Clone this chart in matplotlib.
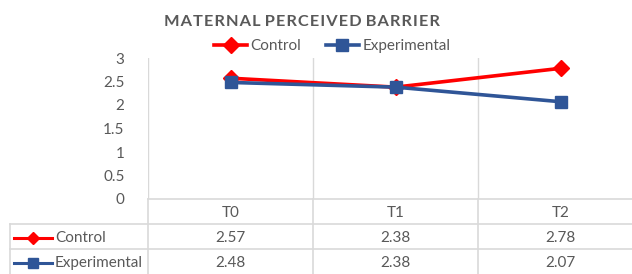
import numpy as np
import matplotlib.pyplot as plt
from matplotlib.lines import Line2D

plt.rcParams['font.family'] = ['Lato', 'DejaVu Sans']

categories = ['T0', 'T1', 'T2']
control = [2.57, 2.38, 2.78]
experimental = [2.48, 2.38, 2.07]
series_names = ['Control', 'Experimental']
yticks = [0, 0.5, 1, 1.5, 2, 2.5, 3]
title = 'MATERNAL PERCEIVED BARRIER'

W, H = 632, 274
red = '#ff0000'
blue = '#2f5597'
grid = '#d9d9d9'
txt = '#595959'

fig = plt.figure(figsize=(W / 100, H / 100), dpi=100)

# plot area in pixels
x0, x1 = 148, 643
y_top, y_bot = 58, 199


def fx(px):
    return px / W


def fy(py):
    return 1 - py / H


ax = fig.add_axes([fx(x0), fy(y_bot), fx(x1) - fx(x0), fy(y_top) - fy(y_bot)])
x = np.arange(len(categories))
ax.plot(x, control, color=red, lw=2.6, marker='D', ms=8, zorder=3, label='Control')
ax.plot(x, experimental, color=blue, lw=2.6, marker='s', ms=8.5, zorder=3, label='Experimental')
ax.set_xlim(-0.5, len(categories) - 0.5)
ax.set_ylim(0, 3)
for b in np.arange(-0.5, len(categories), 1):
    ax.axvline(b, color=grid, lw=1, zorder=0)
for s in ax.spines.values():
    s.set_visible(False)
ax.set_xticks([])
ax.set_yticks(yticks)
ax.set_yticklabels([f'{v:g}' for v in yticks])
ax.tick_params(axis='y', length=0, pad=17, labelsize=11, labelcolor=txt)

# data table below the plot
tax = fig.add_axes([fx(x0), 0, fx(x1) - fx(x0), fy(y_bot)])
tax.set_xlim(-0.5, len(categories) - 0.5)
tax.set_ylim(0, 3)
tax.axis('off')
left = -0.5 + (10 - x0) / ((x1 - x0) / len(categories))
kw = dict(color=grid, lw=1.2, clip_on=False)
tax.plot([-0.5, 2.5], [3, 3], **kw)
tax.plot([left, 2.5], [2, 2], **kw)
tax.plot([left, 2.5], [1.0, 1.0], **kw)
tax.plot([left, left], [0, 2], **kw)
for b in np.arange(-0.5, len(categories), 1):
    tax.plot([b, b], [0, 3], **kw)

for i, c in enumerate(categories):
    tax.text(i, 2.45, c, ha='center', va='center', fontsize=11, color=txt)
rows = [control, experimental]
styles = [(red, 'D', 6), (blue, 's', 6.5)]
for r, (vals, name, (col, mk, ms)) in enumerate(zip(rows, series_names, styles)):
    yy = 1.45 - r
    for i, v in enumerate(vals):
        tax.text(i, yy, f'{v:.2f}', ha='center', va='center', fontsize=11, color=txt)
    kx0 = left + 4 / 165
    kx1 = left + 42 / 165
    tax.add_line(Line2D([kx0, kx1], [yy, yy], color=col, lw=2.2, clip_on=False))
    tax.add_line(Line2D([(kx0 + kx1) / 2], [yy], color=col, marker=mk, ms=ms, clip_on=False))
    tax.text(left + 45 / 165, yy, name, ha='left', va='center', fontsize=11, color=txt)

spaced = ' '.join('\u200a'.join(w) for w in title.split())
fig.text(fx(302), fy(22), spaced, ha='center', va='center', fontsize=11.8,
         fontweight='bold', color=txt)

ax.legend(loc='center', bbox_to_anchor=(fx(332), fy(46)), bbox_transform=fig.transFigure,
          ncol=2, frameon=False, fontsize=11, labelcolor=txt, handlelength=2.2,
          handletextpad=0.2, columnspacing=1.6, borderaxespad=0)

fig.savefig('out.png', dpi=100)
